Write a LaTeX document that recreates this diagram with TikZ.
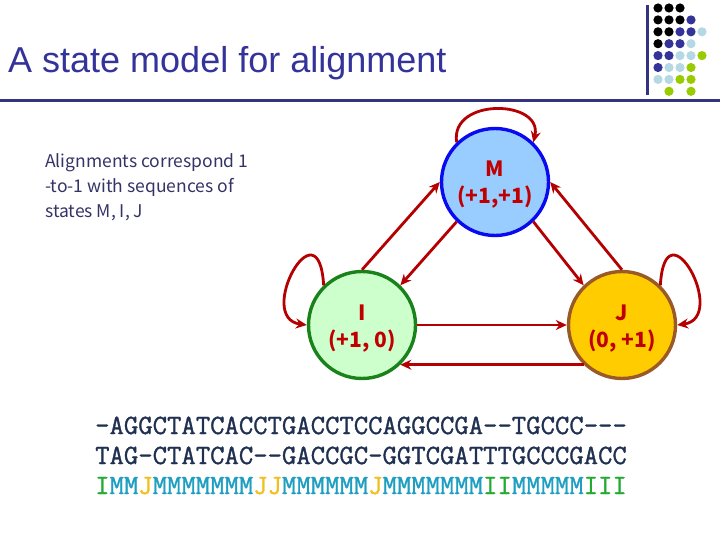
\documentclass[tikz,border=0pt]{standalone}
\usepackage{fontspec}
\setmainfont{Liberation Sans}
\newfontfamily\gothic{Noto Sans CJK JP}
\newfontfamily\seqfont[FakeBold=1.2]{Latin Modern Mono}
\definecolor{titleblue}{HTML}{333399}
\definecolor{rulenavy}{HTML}{333380}
\definecolor{notenavy}{HTML}{333366}
\definecolor{arrowred}{HTML}{B40000}
\definecolor{labelred}{HTML}{C00000}
\definecolor{mfill}{HTML}{99CCFF}
\definecolor{mdraw}{HTML}{0A0AF0}
\definecolor{ifill}{HTML}{CCFFCC}
\definecolor{idraw}{HTML}{1A821A}
\definecolor{jfill}{HTML}{FFCC00}
\definecolor{jdraw}{HTML}{9A5A28}
\definecolor{seqink}{HTML}{1F3050}
\definecolor{mteal}{HTML}{1E9EC0}
\definecolor{igreen}{HTML}{22AA33}
\definecolor{jgold}{HTML}{F0C020}
\definecolor{dotk}{HTML}{000000}
\definecolor{dotn}{HTML}{333399}
\definecolor{dotp}{HTML}{B4D8E4}
\definecolor{dotg}{HTML}{99CC00}
\usetikzlibrary{arrows.meta}

\begin{document}
\begin{tikzpicture}[x=1pt, y=-1pt,
  state/.style={circle, minimum size=107pt, inner sep=0pt, line width=3.4pt,
    align=center, text=labelred, text height=48pt, text depth=4pt,
    font=\gothic\bfseries\fontsize{21}{27}\selectfont},
  trans/.style={-{Stealth[length=11pt, width=10pt]}, line width=2.8pt, arrowred},
  seq/.style={anchor=base west, inner sep=0pt, font=\seqfont\fontsize{27.9}{30}\selectfont}]
  \useasboundingbox (0,0) rectangle (720,540);
  % title and rules
  \node[anchor=base west, inner sep=0pt, text=titleblue,
    font=\fontsize{36}{40}\selectfont] (title) at (8,73) {A state model for alignment};
  \draw[rulenavy, line width=3pt] (0,101) -- (720,101);
  \draw[rulenavy, line width=3pt] (647,5) -- (647,95);
  % dot pattern
  \foreach \row/\cols in {1/{k,k,k}, 2/{k,k,k,n}, 3/{k,k,n,n,p}, 4/{k,n,n,p},
      5/{n,n,p,p,g}, 6/{n,p,p,g}, 7/{p,p,g,g}}
    \foreach \c [count=\i] in \cols
      \fill[dot\c] ({647+11*\i},{8+11.9*(\row-1)}) circle (4.6pt);
  \fill[dotg] (669,91.3) circle (4.6pt);
  \fill[dotg] (691,91.3) circle (4.6pt);
  % note
  \node[anchor=base west, inner sep=0pt, align=left, text=notenavy,
    font=\gothic\fontsize{17.5}{25}\selectfont] (note) at (45,218)
    {Alignments correspond 1\\-to-1 with sequences of\\states M, I, J};
  % states
  \node[state, draw=mdraw, fill=mfill] (M) at (495,182) {M\\(+1,+1)};
  \node[state, draw=idraw, fill=ifill] (I) at (362,325) {I\\(+1, 0)};
  \node[state, draw=jdraw, fill=jfill] (J) at (622,325) {J\\(0, +1)};
  % transitions
  \draw[trans] (I.90) -- (M.180);
  \draw[trans] (M.226) -- (I.46);
  \draw[trans] (M.314) -- (J.134);
  \draw[trans] (J.90) -- (M.0);
  \draw[trans] (I.0) -- (J.180);
  \draw[trans] (J.226) -- (I.314);
  \draw[trans] (M.134) .. controls +(-7,-45) and +(10,-43) .. (M.46);
  \draw[trans] (I.134) .. controls +(-5,-84) and +(-52,-7) .. (I.180);
  \draw[trans] (J.46) .. controls +(5,-84) and +(52,-7) .. (J.0);
  % alignment
  \node[seq, text=seqink] (seqa) at (95,434) {-AGGCTATCACCTGACCTCCAGGCCGA--TGCCC---};
  \node[seq, text=seqink] (seqb) at (95,464) {TAG-CTATCAC--GACCGC-GGTCGATTTGCCCGACC};
  \node[seq, text=mteal] (path) at (95,494)
    {\textcolor{igreen}{I}MM\textcolor{jgold}{J}MMMMMMM\textcolor{jgold}{JJ}MMMMMM\textcolor{jgold}{J}MMMMMMM\textcolor{igreen}{II}MMMMM\textcolor{igreen}{III}};
\end{tikzpicture}
\end{document}
